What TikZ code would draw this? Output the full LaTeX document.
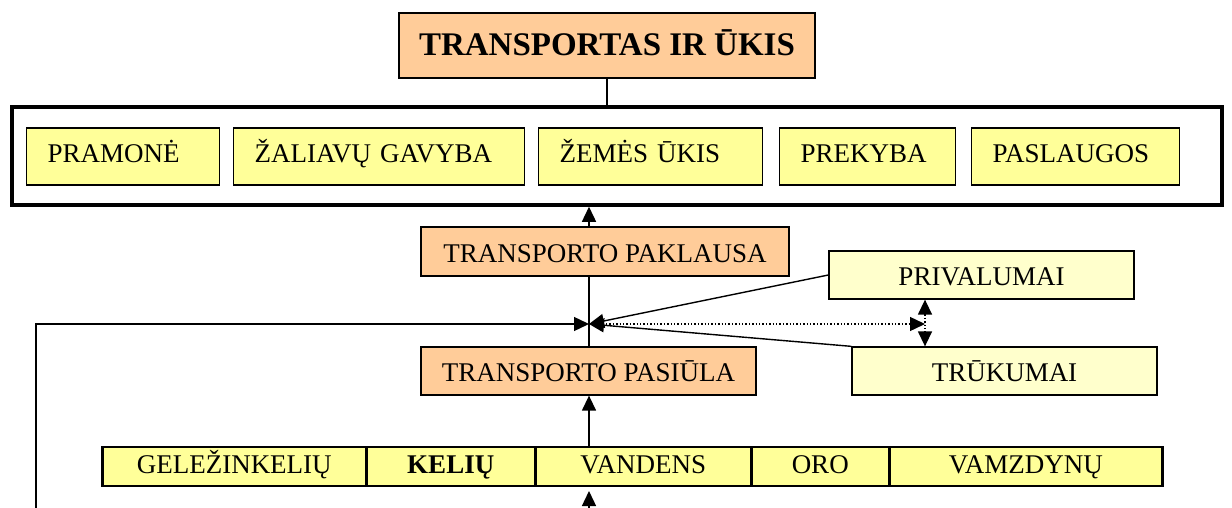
\documentclass[tikz,border=0pt]{standalone}
\usepackage{fontspec}
\setmainfont{Liberation Serif}
\usetikzlibrary{arrows.meta}
\definecolor{peach}{HTML}{FFCC99}
\definecolor{lemon}{HTML}{FFFF99}
\definecolor{cream}{HTML}{FFFFCC}
\tikzset{
  txt/.style={font=\fontsize{27}{30}\selectfont,text height=18pt,text depth=4pt},
  boxa/.style={txt,draw,line width=1.3pt,inner sep=0pt},
  arr/.style={line width=1.4pt,-{Triangle[length=15pt,width=14pt]}},
  arrs/.style={line width=1.4pt,{Triangle[length=15pt,width=14pt]}-{Triangle[length=15pt,width=14pt]}}
}
\begin{document}
\begin{tikzpicture}[x=1pt,y=-1pt]
  \useasboundingbox (0,0) rectangle (1232,508);

  % title and the box of branches
  \node[boxa,fill=peach,minimum width=416,minimum height=65,text height=22pt,text depth=2pt,
        font=\fontsize{33}{36}\selectfont\bfseries] (title) at (607,45.5) {TRANSPORTAS IR ŪKIS};
  \node[draw,line width=3.5pt,minimum width=1210,minimum height=98] (ukis) at (617,156) {};
  \draw[line width=1.3pt] (title.south) -- (title.south |- ukis.north);
  \foreach \n/\xa/\w/\t in {pram/26/193/PRAMONĖ, zal/233/291/ŽALIAVŲ GAVYBA,
      zem/538/224/ŽEMĖS ŪKIS, prek/779/176/PREKYBA, pasl/971/208/PASLAUGOS}
  {
    \pgfmathtruncatemacro\tw{\w-42}
    \node[boxa,fill=lemon,anchor=west,text width=\tw pt,align=left,inner xsep=21pt,
          minimum height=57,text depth=6pt] (\n) at (\xa,156.5) {\t};
  }

  % demand and supply
  \tikzset{mid/.style={boxa,text height=21pt,text depth=0pt,minimum height=48}}
  \node[mid,fill=peach,minimum width=368,minimum height=49] (pakl) at (605,251.5) {TRANSPORTO PAKLAUSA};
  \node[mid,fill=peach,minimum width=335] (pasi) at (588.5,371) {TRANSPORTO PASIŪLA};
  \node[mid,fill=cream,minimum width=305] (priv) at (981.5,275) {PRIVALUMAI};
  \node[mid,fill=cream,minimum width=305] (truk) at (1004.5,371) {TRŪKUMAI};

  % kinds of transport
  \foreach \n/\xa/\w/\t in {gel/101/264/GELEŽINKELIŲ, kel/365/169/\textbf{KELIŲ},
      vnd/534/216/VANDENS, oro/750/138/ORO, vmz/888/273/VAMZDYNŲ}
    \node[txt,draw,line width=2.5pt,fill=lemon,anchor=west,inner sep=0pt,
          minimum width=\w,minimum height=39] (\n) at (\xa,466.5) {\t};

  \coordinate (jn) at (589,324);
  \coordinate (dv) at (925,324);
  \coordinate (lb) at (36,508);
  \coordinate (lo) at (589,508);
  \coordinate (lotip) at (589,491);

  \draw[arr] (jn |- pakl.north) -- (jn |- ukis.south);
  \draw[line width=1.4pt] (jn |- pakl.south) -- (jn |- pasi.north);
  \draw[arr] (jn |- vnd.north) -- (jn |- pasi.south);
  \draw[arr] (lo) -- (lotip);
  \draw[arr] (lb) |- (jn);
  \draw[arr] (priv.west) -- (jn);
  \draw[arr] (truk.north west) -- (jn);
  \draw[arr,dotted] (jn) -- (dv);
  \draw[arrs,dotted] (dv |- priv.south) -- (dv |- truk.north);
\end{tikzpicture}
\end{document}
